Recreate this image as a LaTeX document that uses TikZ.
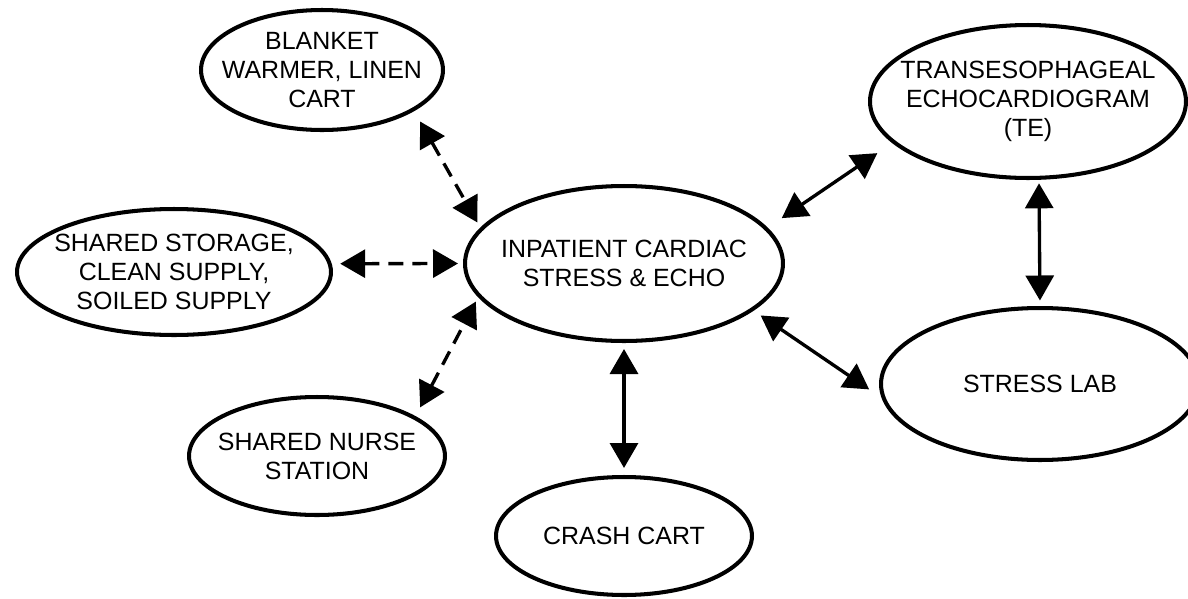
\documentclass[tikz,border=0pt]{standalone}
\usepackage{fontspec}
\setmainfont{Liberation Sans}
\usepackage{tikz}
\usetikzlibrary{shapes.geometric, arrows.meta}

\tikzset{
  room/.style={draw, ellipse, line width=2.3pt, inner xsep=-0.4cm, inner ysep=0pt,
    align=center, font=\fontsize{14.2}{16.6}\selectfont},
  link/.style={line width=1.9pt, >={Triangle[length=0.5cm,width=0.56cm]}, <->},
  sharedlink/.style={link, dash pattern=on 0.3cm off 0.18cm}
}

\begin{document}
\begin{tikzpicture}[x=0.02cm, y=-0.02cm]
  \useasboundingbox (0,0) rectangle (1188,599);
  \node[room, minimum width=6.36cm, minimum height=3.10cm] (echo) at (624,263.5) {INPATIENT CARDIAC\\STRESS \& ECHO};
  \node[room, minimum width=4.84cm, minimum height=2.40cm] (blanket) at (322,70) {BLANKET\\WARMER, LINEN\\CART};
  \node[room, minimum width=6.28cm, minimum height=2.52cm] (storage) at (174,272) {SHARED STORAGE,\\CLEAN SUPPLY,\\SOILED SUPPLY};
  \node[room, minimum width=5.12cm, minimum height=2.36cm] (nurse) at (317,456) {SHARED NURSE\\STATION};
  \node[room, minimum width=5.12cm, minimum height=2.36cm] (crash) at (624,536) {CRASH CART};
  \node[room, minimum width=6.32cm, minimum height=3.06cm] (tee) at (1028,101.5) {TRANSESOPHAGEAL\\ECHOCARDIOGRAM\\(TE)};
  \node[room, minimum width=6.36cm, minimum height=3.04cm] (stress) at (1040,384) {STRESS LAB};

  % shared spaces
  \draw[sharedlink, shorten <=0.24cm, shorten >=0.12cm] (blanket.-24.2) -- (echo.166.2);
  \draw[sharedlink, shorten <=0.17cm, shorten >=0.1cm] (storage.3.3) -- (echo.180);
  \draw[sharedlink, shorten <=0.2cm, shorten >=0.1cm] (nurse.22.2) -- (echo.193.6);

  % direct links
  \draw[link, shorten <=0.12cm, shorten >=0.14cm] (echo.south) -- (crash.north);
  \draw[link, shorten <=0.34cm, shorten >=0.36cm] (echo.14.9) -- (tee.197.6);
  \draw[link, shorten <=0.17cm, shorten >=0.3cm] (echo.-20.6) -- (stress.185.9);
  \draw[link, shorten <=0.07cm, shorten >=0.11cm] (tee.-82) -- (stress.north);
\end{tikzpicture}
\end{document}
